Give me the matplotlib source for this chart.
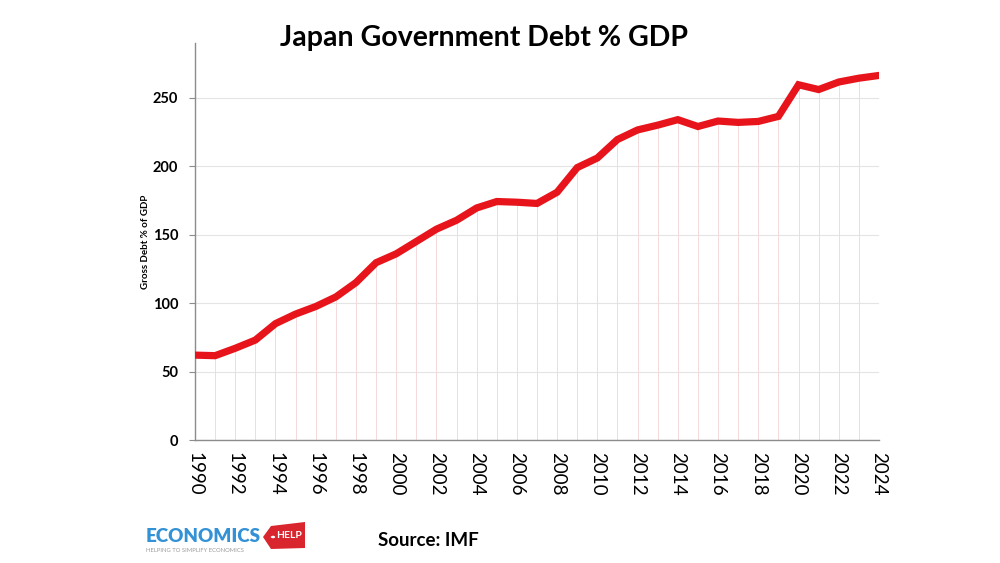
import matplotlib
matplotlib.use("Agg")
import matplotlib.pyplot as plt
from matplotlib.patches import Polygon, Circle
import numpy as np

plt.rcParams['font.family'] = ['Lato', 'DejaVu Sans']

years = list(range(1990, 2025))
debt = [62, 61.6, 67, 73, 85, 92, 97.5, 104.5, 115, 129.5, 136, 145, 154, 160.5,
        169.5, 174.2, 173.7, 172.8, 181, 199, 206, 219.5, 226.5, 230, 234,
        229, 233, 232, 232.7, 236.4, 259.5, 256, 261.5, 264.3, 266.3]
xtick_years = list(range(1990, 2025, 2))
yticks = [0, 50, 100, 150, 200, 250]

title = "Japan Government Debt % GDP"
ylabel = "Gross Debt % of GDP"
source = "Source: IMF"

W, H = 1000, 563
fig = plt.figure(figsize=(W/100, H/100), dpi=100)
ax = fig.add_axes([195/W, 1-440/H, (879-195)/W, (440-43)/H])

ax.vlines(years, 0, debt, color='#f3dada', lw=0.7, zorder=1)
ax.plot(years, debt, color='#e8141c', lw=5.2, solid_joinstyle='miter', zorder=3)

ax.set_xlim(1990, 2024)
ax.set_ylim(0, 290)
ax.set_yticks(yticks)
ax.set_xticks(xtick_years)
ax.set_xticklabels([str(y) for y in xtick_years], rotation=270, fontsize=13.5)
ax.tick_params(axis='x', length=0, pad=9)
ax.tick_params(axis='y', length=4, width=0.8, color='#8c8c8c', pad=8, labelsize=10.5)
for lab in ax.get_yticklabels():
    lab.set_fontweight('bold')
ax.yaxis.grid(True, color='#e4e4e4', lw=0.8, zorder=0)
ax.set_axisbelow(True)
for s in ['top', 'right']:
    ax.spines[s].set_visible(False)
for s in ['left', 'bottom']:
    ax.spines[s].set_color('#8c8c8c')
    ax.spines[s].set_linewidth(1.0)

fig.text(145/W, 1-242/H, ylabel, rotation=90, fontsize=7, fontweight='bold',
         ha='center', va='center')
fig.text(484/W, 1-38/H, title, fontsize=20.5, fontweight='bold', ha='center', va='center')
fig.text(428/W, 1-540/H, source, fontsize=13.5, fontweight='bold', ha='center', va='center')

# logo
fig.text(146/W, 1-537/H, "ECONOMICS", fontsize=13.5, fontweight='heavy', color='#3391d6',
         ha='left', va='center')
fig.text(146/W, 1-551/H, "HELPING TO SIMPLIFY ECONOMICS", fontsize=4.2, color='#9a9a9a',
         ha='left', va='center')
tag = Polygon([(263/W, 1-537/H), (271/W, 1-526/H), (305/W, 1-522/H), (305/W, 1-548/H),
               (271/W, 1-549/H)], closed=True, transform=fig.transFigure,
              facecolor='#d9262e', edgecolor='none')
fig.patches.append(tag)
fig.patches.append(Circle((273/W, 1-537/H), 2.2/W, transform=fig.transFigure,
                          facecolor='white', edgecolor='none'))
fig.text(289/W, 1-536/H, "HELP", fontsize=7.5, fontweight='bold', color='white',
         ha='center', va='center')

fig.savefig("out.png", dpi=100)
